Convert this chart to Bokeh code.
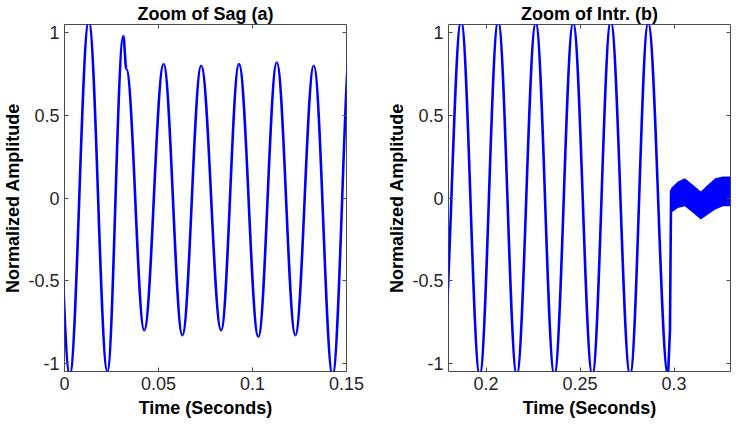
import numpy as np
from bokeh.plotting import figure
from bokeh.models import LinearAxis, FixedTicker, CustomJSTickFormatter, Range1d
from bokeh.layouts import row
from bokeh.embed import file_html
from bokeh.resources import INLINE

# ---------------- data ----------------
# (a) Zoom of Sag: successive extremes of the waveform (time in s, normalized amplitude)
sag_t = [-0.0072, 0.0028, 0.0129, 0.0228, 0.0313, 0.0329, 0.0424, 0.0527, 0.0627,
         0.0727, 0.0833, 0.0928, 0.1031, 0.1129, 0.1228, 0.1326, 0.1426, 0.1526]
sag_v = [1.00, -1.07, 1.07, -1.05, 0.98, 0.78, -0.80, 0.81, -0.83,
         0.80, -0.80, 0.81, -0.84, 0.82, -0.83, 0.80, -1.07, 1.00]

# (b) Zoom of Intr.: successive extremes before the interruption
intr_t = [0.1766, 0.1867, 0.1966, 0.2064, 0.2163, 0.2264, 0.2363, 0.2463,
          0.2565, 0.2663, 0.2766, 0.2862, 0.2968]
intr_v = [-1.00, 1.07, -1.07, 1.07, -1.07, 1.06, -1.07, 1.06,
          -1.07, 1.07, -1.07, 1.06, -1.07]
# abrupt cut at the start of the interruption
cut_t = [0.2968, 0.2978, 0.2984]
cut_v = [-1.07, -0.80, 0.05]
# residual noisy band during interruption (upper / lower envelope)
noise_t = [0.2984, 0.3020, 0.3057, 0.3100, 0.3142, 0.3180, 0.3219, 0.3260, 0.3300]
noise_hi = [0.06, 0.10, 0.12, 0.08, 0.04, 0.08, 0.12, 0.13, 0.13]
noise_lo = [-0.09, -0.06, -0.05, -0.09, -0.13, -0.10, -0.07, -0.05, -0.05]

sag_xticks = [0, 0.05, 0.1, 0.15]
intr_xticks = [0.2, 0.25, 0.3]
yticks = [-1, -0.5, 0, 0.5, 1]

# ---------------- styling ----------------
BLUE = "#0000ff"
FONT = "Liberation Sans"
AX = "#4d4d4d"
TXT = "#262626"
K = 1 - 2 / np.pi  # control-point fraction for smooth half-cycle curves

fmt = CustomJSTickFormatter(code="return String(Math.round(tick*1000)/1000);")


def half_cycles(p, t, v):
    t = np.asarray(t, float)
    v = np.asarray(v, float)
    x0, x1 = t[:-1], t[1:]
    dt = x1 - x0
    p.bezier(x0=x0, y0=v[:-1], x1=x1, y1=v[1:],
             cx0=x0 + K * dt, cy0=v[:-1], cx1=x1 - K * dt, cy1=v[1:],
             line_color=BLUE, line_width=2.6)


def tick_only_axis(ticks):
    return LinearAxis(ticker=FixedTicker(ticks=ticks), formatter=fmt,
                      major_label_text_font_size="1px", major_label_text_color=None,
                      major_label_standoff=0,
                      axis_line_color=None, major_tick_in=4, major_tick_out=0,
                      major_tick_line_color=AX, minor_tick_line_color=None)


def make_fig(title, xr, xticks, left_border, right_border):
    p = figure(frame_width=282, frame_height=347,
               x_range=Range1d(*xr), y_range=Range1d(-1.05, 1.05),
               output_backend="svg", toolbar_location=None,
               min_border_left=left_border, min_border_right=right_border,
               min_border_top=14, min_border_bottom=51)
    p.title.text = title
    p.title.align = "center"
    p.title.text_font = FONT
    p.title.text_font_size = "18px"
    p.title.text_font_style = "bold"
    p.title.text_color = "black"
    p.title.standoff = 2
    p.grid.visible = False
    p.outline_line_color = AX
    p.outline_line_width = 1
    p.outline_line_alpha = 1
    p.background_fill_color = "white"
    p.border_fill_color = "white"

    p.xaxis.ticker = FixedTicker(ticks=xticks)
    p.yaxis.ticker = FixedTicker(ticks=yticks)
    for ax in (p.xaxis[0], p.yaxis[0]):
        ax.formatter = fmt
        ax.axis_line_color = None
        ax.major_tick_in = 4
        ax.major_tick_out = 0
        ax.major_tick_line_color = AX
        ax.minor_tick_line_color = None
        ax.major_label_text_font = FONT
        ax.major_label_text_font_size = "18px"
        ax.major_label_text_color = TXT
        ax.axis_label_text_font = FONT
        ax.axis_label_text_font_size = "18px"
        ax.axis_label_text_font_style = "bold"
        ax.axis_label_text_color = "black"
    p.xaxis.axis_label = "Time (Seconds)"
    p.yaxis.axis_label = "Normalized Amplitude"
    p.xaxis.major_label_standoff = 5
    p.xaxis.axis_label_standoff = 5
    p.yaxis.major_label_standoff = 5
    p.yaxis.axis_label_standoff = 2

    p.add_layout(tick_only_axis(xticks), "above")
    p.add_layout(tick_only_axis(yticks), "right")
    return p


p1 = make_fig("Zoom of Sag (a)", (0, 0.15), sag_xticks, 60, 38)
half_cycles(p1, sag_t, sag_v)

p2 = make_fig("Zoom of Intr. (b)", (0.18, 0.33), intr_xticks, 60, 2)
half_cycles(p2, intr_t, intr_v)
p2.line(cut_t, cut_v, line_color=BLUE, line_width=2.6)
p2.varea(x=noise_t, y1=noise_lo, y2=noise_hi, fill_color=BLUE)

layout = row(p1, p2)
open("out.html", "w").write(file_html(layout, INLINE))
